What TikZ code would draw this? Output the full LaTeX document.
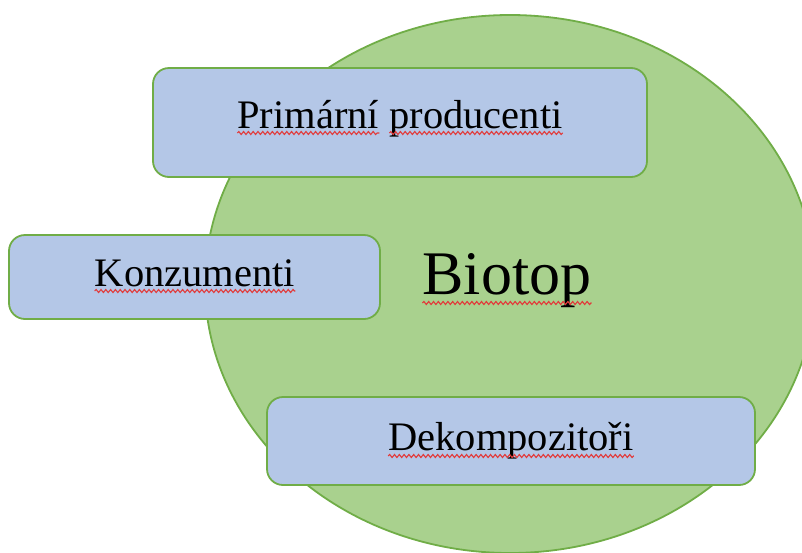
\documentclass[tikz,border=0pt]{standalone}
\usepackage{fontspec}
\setmainfont{Liberation Serif}
\usetikzlibrary{calc,decorations.pathmorphing}
\definecolor{biogreen}{HTML}{A9D18E}
\definecolor{edgegreen}{HTML}{70AD47}
\definecolor{boxblue}{HTML}{B4C7E7}
\definecolor{squig}{HTML}{E23A3A}
\begin{document}
\begin{tikzpicture}[x=1pt,y=-1pt,
  boxstyle/.style={draw=edgegreen, line width=1.8pt, fill=boxblue, rounded corners=16pt, inner sep=0pt},
  lbl/.style={inner sep=0pt, anchor=base, text=black, font=\fontsize{40.5}{48}\selectfont},
  squiggle/.style={draw=squig, line width=1.1pt, decorate, decoration={snake, segment length=4.8pt, amplitude=1.5pt}}]
\useasboundingbox (0,0) rectangle (802,552);
\clip (0,0) rectangle (802,552);
% biotope ellipse
\draw[fill=biogreen, draw=edgegreen, line width=1.8pt] (510,284) ellipse [x radius=305pt, y radius=269pt];
% boxes
\node[boxstyle, minimum width=494pt, minimum height=109pt] (prod) at (400,122.5) {};
\node[boxstyle, minimum width=371pt, minimum height=84pt] (konz) at (194.5,277) {};
\node[boxstyle, minimum width=488pt, minimum height=88pt] (dek) at (511,441) {};
% texts
\node[lbl] (tprod) at (400,128) {Primární producenti};
\node[lbl] (tkonz) at (195,286) {Konzumenti};
\node[lbl] (tdek) at (511,450) {Dekompozitoři};
\node[lbl, font=\fontsize{62}{70}\selectfont] (tbio) at (507,294) {Biotop};
% spell-check squiggles
\draw[squiggle] ($(tprod.base west)+(0,5)$) -- ($(tprod.base west)+(142,5)$);
\draw[squiggle] ($(tprod.base west)+(152,5)$) -- ($(tprod.base east)+(0,5)$);
\draw[squiggle] ($(tkonz.base west)+(0,5)$) -- ($(tkonz.base east)+(0,5)$);
\draw[squiggle] ($(tdek.base west)+(0,6)$) -- ($(tdek.base east)+(0,6)$);
\draw[squiggle] ($(tbio.base west)+(0,9)$) -- ($(tbio.base east)+(0,9)$);
\end{tikzpicture}
\end{document}
